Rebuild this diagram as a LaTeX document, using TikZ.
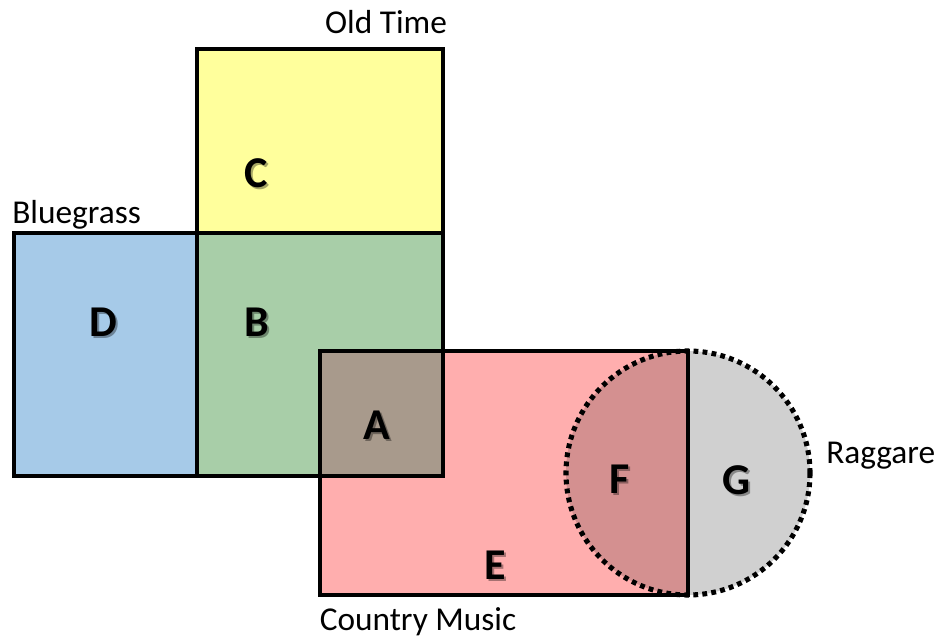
\documentclass[tikz,border=0pt]{standalone}
\usepackage{fontspec}
\setmainfont{Carlito}
\definecolor{cyellow}{HTML}{FFFF9C}
\definecolor{cblue}{HTML}{A6CAE8}
\definecolor{cgreen}{HTML}{A8CEA8}
\definecolor{cbrown}{HTML}{A89A8C}
\definecolor{cpink}{HTML}{FFAEAE}
\definecolor{cfpink}{HTML}{D49090}
\definecolor{cgray}{HTML}{D0D0D0}
\tikzset{
  setline/.style={line width=3pt, black},
  dotline/.style={line width=3.8pt, black, dash pattern=on 3.6pt off 3.2pt},
  setlabel/.style={inner sep=0pt, font=\fontsize{25}{30}\selectfont},
  region/.style={inner sep=0pt, font=\fontsize{33}{40}\selectfont\bfseries},
  regshadow/.style={region, text=black, opacity=0.35},
}
\begin{document}
\begin{tikzpicture}[x=0.75pt,y=-0.75pt]
\useasboundingbox (0,0) rectangle (940,641);
% fills
\fill[cyellow] (197,49) rectangle (443,233);
\fill[cblue] (14,233) rectangle (197,476);
\fill[cgreen] (197,233) rectangle (443,476);
\fill[cpink] (320,351) rectangle (688,595);
\fill[cbrown] (320,351) rectangle (443,476);
\begin{scope}
  \clip (688,300) rectangle (900,650);
  \fill[cgray] (688,473) circle [radius=91.5pt];
\end{scope}
\begin{scope}
  \clip (320,351) rectangle (688,595);
  \fill[cfpink] (688,473) circle [radius=91.5pt];
\end{scope}
% outlines
\draw[setline] (197,49) rectangle (443,476);
\draw[setline] (14,233) rectangle (443,476);
\draw[setline] (320,351) rectangle (688,595);
\draw[dotline] (688,473) circle [radius=91.5pt];
% set labels
\node[setlabel] (oldtime) at (386,22) {Old Time};
\node[setlabel, anchor=west] (bluegrass) at (12,215) {Bluegrass};
\node[setlabel] (country) at (418,622) {Country Music};
\node[setlabel, anchor=west] (raggare) at (826,456) {Raggare};
% region labels (soft shadow + letter)
\foreach \nm/\x/\y in {C/256/173, D/103/322, B/257/322, A/377/425, F/620/479, G/737/480, E/495/565}{
  \node[regshadow] at (\x+2,\y+2) {\nm};
}
\node[region] (C) at (256,173) {C};
\node[region] (D) at (103,322) {D};
\node[region] (B) at (257,322) {B};
\node[region] (A) at (377,425) {A};
\node[region] (F) at (620,479) {F};
\node[region] (G) at (737,480) {G};
\node[region] (E) at (495,565) {E};
\end{tikzpicture}
\end{document}
